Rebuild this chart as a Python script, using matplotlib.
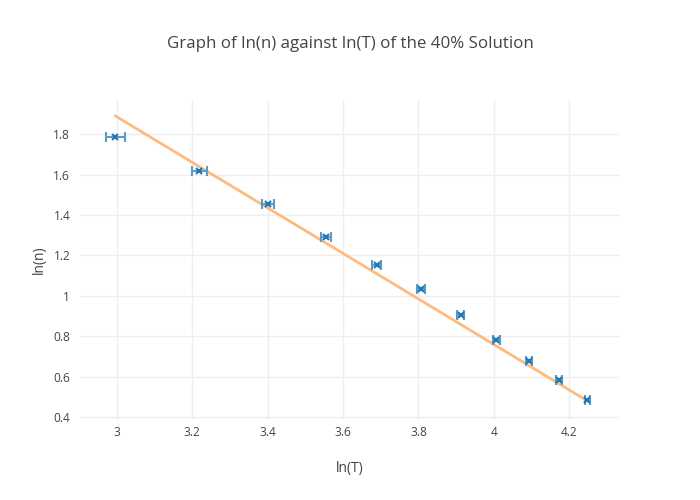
import numpy as np
import matplotlib.pyplot as plt

plt.rcParams['font.family'] = ['Open Sans', 'DejaVu Sans']

# data
ln_T = [2.996, 3.219, 3.401, 3.555, 3.689, 3.807, 3.912, 4.007, 4.094, 4.174, 4.248]
ln_n = [1.785, 1.62, 1.452, 1.29, 1.152, 1.032, 0.904, 0.78, 0.675, 0.582, 0.483]
ln_T_err = [0.025, 0.020, 0.017, 0.014, 0.0125, 0.011, 0.010, 0.009, 0.0083, 0.0077, 0.0071]

fit_x = [2.996, 4.248]
fit_y = [1.89, 0.48]

xticks = [3, 3.2, 3.4, 3.6, 3.8, 4, 4.2]
xticklabels = ['3', '3.2', '3.4', '3.6', '3.8', '4', '4.2']
yticks = [0.4, 0.6, 0.8, 1.0, 1.2, 1.4, 1.6, 1.8]
yticklabels = ['0.4', '0.6', '0.8', '1', '1.2', '1.4', '1.6', '1.8']

fig = plt.figure(figsize=(7, 5), dpi=100)
ax = fig.add_axes([80/700, 80/500, 540/700, 320/500])

ax.plot(fit_x, fit_y, color='#ffbb7f', lw=2, zorder=2)
ax.errorbar(ln_T, ln_n, xerr=ln_T_err, fmt='x', color='#1f77b4', ms=5, mew=1.5,
            ecolor='#5c9bc9', elinewidth=1.5, capsize=3.5, capthick=1.5, zorder=3)

ax.set_xlim(2.902, 4.335)
ax.set_ylim(0.385, 1.969)
ax.set_xticks(xticks)
ax.set_xticklabels(xticklabels)
ax.set_yticks(yticks)
ax.set_yticklabels(yticklabels)
ax.tick_params(axis='x', length=0, labelsize=8.6, colors='#444444', pad=4)
ax.tick_params(axis='y', length=0, labelsize=8.6, colors='#444444', pad=7)
ax.grid(True, color='#eeeeee', lw=1)
ax.set_axisbelow(True)
for s in ax.spines.values():
    s.set_visible(False)

ax.set_xlabel('ln(T)', fontsize=10, color='#444444', labelpad=16)
ax.set_ylabel('ln(n)', fontsize=10, color='#444444', labelpad=5)
fig.text(0.5, 1 - 44/500, 'Graph of ln(n) against ln(T) of the 40% Solution',
         ha='center', va='center', fontsize=12.2, color='#444444')

fig.savefig('out.png', dpi=100)
